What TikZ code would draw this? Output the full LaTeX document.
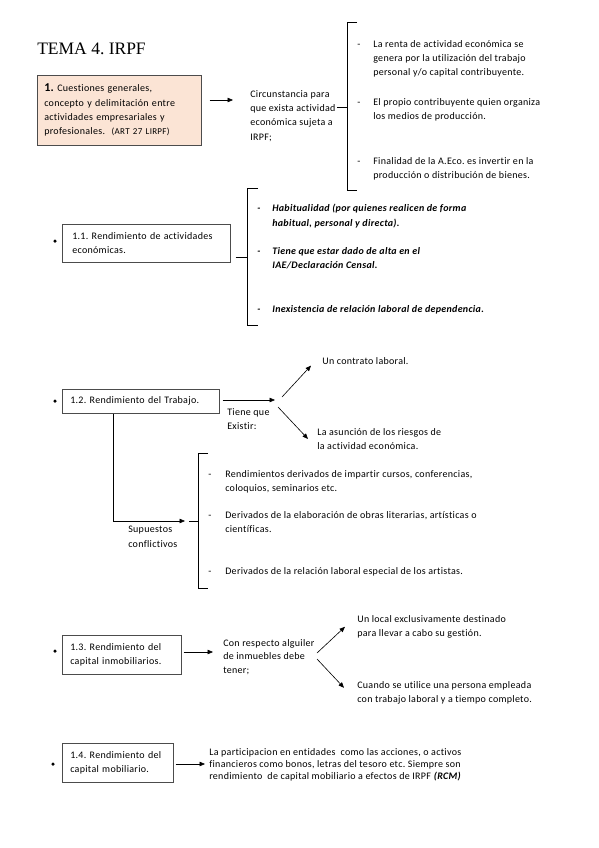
\documentclass[tikz,border=0pt]{standalone}
\usepackage{fontspec}
\setmainfont{Carlito}[LetterSpace=3.0,Ligatures=NoCommon]
\newfontfamily\titulofont{Liberation Serif}
\usetikzlibrary{arrows.meta}
\definecolor{salmon}{HTML}{FBE4D5}
\newcommand{\guion}[1][16pt]{\llap{\makebox[#1][l]{-}}}
\frenchspacing

\tikzset{
  >={Triangle[length=5.5pt,width=4.5pt]},
  txt/.style={anchor=north west,inner sep=0pt,align=left,font=\fontsize{10}{14.3}\selectfont},
  caja/.style={draw=black!70,anchor=north west,inner xsep=8pt,inner ysep=0pt,align=left,font=\fontsize{10}{14.3}\selectfont},
  punto/.style={circle,fill=black,inner sep=0pt,minimum size=3.5pt},
}

\begin{document}
\begin{tikzpicture}[x=1pt,y=-1pt,line width=0.6pt]
	\useasboundingbox (0,0) rectangle (599,848);
	\node [anchor=base west,inner sep=0pt,font=\titulofont\fontsize{17.5}{20}\selectfont] (titulo) at (37,55) {TEMA 4. IRPF};

	% 1. cuestiones generales
	\node [caja,fill=salmon,text width=150pt,inner xsep=7pt,minimum height=70pt] (c1) at (37,75) {{\fontsize{12}{14}\selectfont\bfseries 1.} Cuestiones generales,\\concepto y delimitación entre\\actividades empresariales y\\profesionales.\ \ {\fontsize{9}{10}\selectfont(ART 27 LIRPF)}};
	\node [txt] (circ) at (250,90) {Circunstancia para\\que exista actividad\\económica sujeta a\\IRPF;};
	\coordinate (f1) at (233,100);
	\draw [->] ([xshift=8pt]c1.east |- f1) -- (f1);
	\draw (357,22) -| (347,190) -- (357,190);
	\draw (337,107) -- (347,107);
	\node [txt] (r1) at (373,40) {\guion La renta de actividad económica se\\genera por la utilización del trabajo\\personal y/o capital contribuyente.};
	\node [txt] (r2) at (373,98) {\guion El propio contribuyente quien organiza\\los medios de producción.};
	\node [txt] (r3) at (373,157) {\guion Finalidad de la A.Eco. es invertir en la\\producción o distribución de bienes.};

	% 1.1
	\node [punto] (p11) at (55,241) {};
	\node [caja,text width=148pt,inner xsep=10pt,minimum height=38pt] (c11) at (62,224) {1.1. Rendimiento de actividades\\económicas.};
	\coordinate (f2) at (247,257);
	\draw ([xshift=5pt]c11.east |- f2) -- (f2);
	\draw (258,188) -| (247,325) -- (258,325);
	\node [txt,font=\fontsize{10}{14.3}\selectfont\bfseries\itshape] (h1) at (272,204) {\guion[15pt]Habitualidad (por quienes realicen de forma\\habitual, personal y directa).};
	\node [txt,font=\fontsize{10}{14.3}\selectfont\bfseries\itshape] (h2) at (272,247) {\guion[15pt]Tiene que estar dado de alta en el\\IAE/Declaración Censal.};
	\node [txt,font=\fontsize{10}{14.3}\selectfont\bfseries\itshape] (h3) at (272,305) {\guion[15pt]Inexistencia de relación laboral de dependencia.};

	% 1.2
	\node [punto] (p12) at (55,401) {};
	\node [caja,text width=141pt,minimum height=24pt] (c12) at (62,389) {1.2. Rendimiento del Trabajo.};
	\coordinate (f3) at (275,400);
	\draw [->] ([xshift=3pt]c12.east |- f3) -- (f3);
	\node [txt] (existir) at (227,408) {Tiene que\\Existir:};
	\node [txt] (contrato) at (322,357) {Un contrato laboral.};
	\node [txt] (riesgos) at (317,428) {La asunción de los riesgos de\\la actividad económica.};
	\coordinate (a1) at (282,397);
	\coordinate (a2) at (278,407);
	\draw [->] (a1) -- ([xshift=-11pt,yshift=-1pt]contrato.south west);
	\draw [->] (a2) -- ([xshift=-9pt]riesgos.west);
	\coordinate (f4) at (185,521);
	\draw [->] ([xshift=51pt]c12.south west) |- (f4);
	\node [txt] (supuestos) at (128,526) {Supuestos\\conflictivos};
	\draw (189,521) -- (198,521);
	\draw (208,453) -| (198,588) -- (208,588);
	\node [txt] (s1) at (225,470) {\guion[17pt]Rendimientos derivados de impartir cursos, conferencias,\\coloquios, seminarios etc.};
	\node [txt] (s2) at (225,511) {\guion[17pt]Derivados de la elaboración de obras literarias, artísticas o\\científicas.};
	\node [txt] (s3) at (225,567) {\guion[17pt]Derivados de la relación laboral especial de los artistas.};

	% 1.3
	\node [punto] (p13) at (55,651) {};
	\node [caja,text width=103pt,minimum height=39pt] (c13) at (62,635) {1.3. Rendimiento del\\capital inmobiliarios.};
	\coordinate (f5) at (213,652);
	\draw [->] ([xshift=2pt]c13.east |- f5) -- (f5);
	\node [txt,font=\fontsize{10}{13.5}\selectfont] (alquiler) at (223,639) {Con respecto alguiler\\de inmuebles debe\\tener;};
	\node [txt] (local) at (357,615) {Un local exclusivamente destinado\\para llevar a cabo su gestión.};
	\node [txt] (cuando) at (357,681) {Cuando se utilice una persona empleada\\con trabajo laboral y a tiempo completo.};
	\coordinate (a3) at (317,653);
	\coordinate (a4) at (317,659);
	\draw [->] (a3) -- ([xshift=-12pt]local.west);
	\draw [->] (a4) -- ([xshift=-13pt,yshift=5pt]cuando.west);

	% 1.4
	\node [punto] (p14) at (53,764) {};
	\node [caja,text width=95pt,minimum height=39pt] (c14) at (62,743) {1.4. Rendimiento del\\capital mobiliario.};
	\coordinate (f6) at (205,764);
	\draw [->] ([xshift=2pt]c14.east |- f6) -- (f6);
	\node [txt,font=\fontsize{10}{12}\selectfont] (rcm) at (209,748) {La participacion en entidades\ \ como las acciones, o activos\\financieros como bonos, letras del tesoro etc. Siempre son\\rendimiento\ \ de capital mobiliario a efectos de IRPF \textbf{\textit{(RCM)}}};
\end{tikzpicture}
\end{document}
